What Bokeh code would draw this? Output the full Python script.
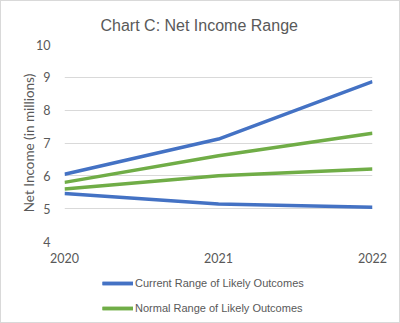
from bokeh.plotting import figure
from bokeh.models import Legend, LegendItem, Range1d, FixedTicker
from bokeh.layouts import column
from bokeh.embed import file_html
from bokeh.resources import INLINE

years = [2020, 2021, 2022]
current_high = [6.05, 7.12, 8.87]
current_low = [5.46, 5.14, 5.04]
normal_high = [5.80, 6.61, 7.30]
normal_low = [5.60, 6.00, 6.21]
y_ticks = [4, 5, 6, 7, 8, 9, 10]
series = [("Current Range of Likely Outcomes", current_high, current_low, "#4472C4"),
          ("Normal Range of Likely Outcomes", normal_high, normal_low, "#70AD47")]

GRAY = "#595959"

p = figure(width=398, height=270, output_backend="svg", toolbar_location=None,
           x_range=Range1d(2020, 2022), y_range=Range1d(4, 10),
           min_border_left=63, min_border_right=27, min_border_top=43, min_border_bottom=30,
           title="Chart C: Net Income Range")
p.outline_line_color = None
p.title.align = "left"
p.title.text_font = "Liberation Sans"
p.title.text_font_style = "normal"
p.title.text_font_size = "16px"
p.title.text_color = GRAY
p.title.offset = 36
p.title.standoff = 21

for label, hi, lo, color in series:
    p.line(years, hi, line_color=color, line_width=3.5)
    p.line(years, lo, line_color=color, line_width=3.5)

p.xaxis.ticker = FixedTicker(ticks=years)
p.yaxis.ticker = FixedTicker(ticks=y_ticks)
for ax in (p.xaxis[0], p.yaxis[0]):
    ax.axis_line_color = None
    ax.major_tick_line_color = None
    ax.minor_tick_line_color = None
    ax.major_label_text_font = "Lato"
    ax.major_label_text_font_size = "12.5px"
    ax.major_label_text_color = GRAY
p.yaxis.major_label_standoff = 8
p.xaxis.major_label_standoff = 5
p.yaxis.axis_label = "Net Income (in millions)"
p.yaxis.axis_label_text_font = "Lato"
p.yaxis.axis_label_text_font_style = "normal"
p.yaxis.axis_label_text_font_size = "13.5px"
p.yaxis.axis_label_text_color = GRAY
p.yaxis.axis_label_standoff = -4

p.xgrid.grid_line_color = None
p.ygrid.grid_line_color = "#d9d9d9"
p.ygrid.grid_line_width = 1

# legend strip below the chart
lf = figure(width=398, height=51, output_backend="svg", toolbar_location=None,
            x_range=Range1d(0, 1), y_range=Range1d(0, 1),
            min_border_left=0, min_border_right=0, min_border_top=0, min_border_bottom=0)
lf.axis.visible = False
lf.grid.visible = False
lf.outline_line_color = None
items = []
for label, hi, lo, color in series:
    ra = lf.line(years, hi, line_color=color, line_width=3.5)
    rb = lf.line(years, lo, line_color=color, line_width=3.5)
    items.append(LegendItem(label=label, renderers=[ra, rb]))

legend = Legend(items=items, orientation="vertical", location=(38, 7),
                label_text_font="Liberation Sans", label_text_font_size="11px",
                label_text_color=GRAY, glyph_width=31, glyph_height=14,
                label_standoff=2, spacing=11, padding=0, margin=0,
                border_line_color=None, background_fill_alpha=0)
lf.add_layout(legend, "center")

layout = column(p, lf, spacing=0)
layout.styles = {"border": "1px solid #d9d9d9"}

open("out.html", "w").write(file_html(layout, INLINE))
